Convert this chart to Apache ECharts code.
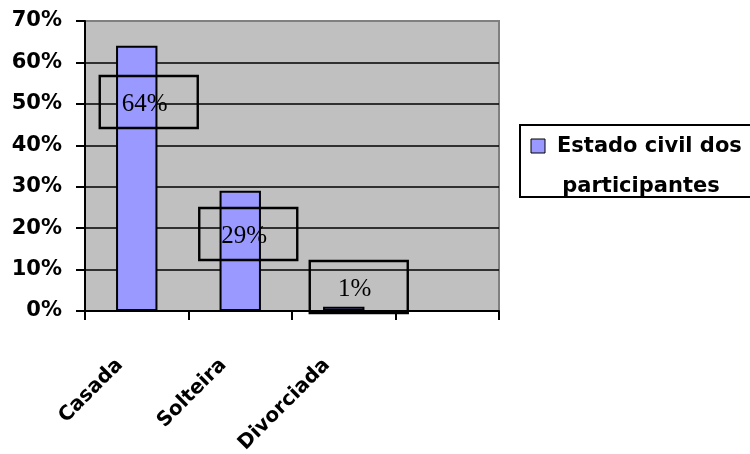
<!DOCTYPE html>
<html>
<head>
<meta charset="utf-8">
<script src="https://cdn.jsdelivr.net/npm/echarts@6/dist/echarts.min.js"></script>
<style>
  html, body { margin: 0; padding: 0; background: #ffffff; }
  #chart { width: 750px; height: 454px; }
</style>
</head>
<body>
<div id="chart"></div>
<script>
// Marital status of the participants (percent)
const categories = ['Casada', 'Solteira', 'Divorciada', ''];
const shares = [64, 29, 1];
const yTickLabels = ['0%', '10%', '20%', '30%', '40%', '50%', '60%', '70%'];
const seriesName = 'Estado civil dos participantes';

const Y_STEP = 10;
const Y_MAX = Y_STEP * (yTickLabels.length - 1);

// Each value label sits in its own framed box, nudged from the bar's base
const labelNudge = [[12, -183], [8, -51], [15, 2]];

const chart = echarts.init(document.getElementById('chart'), null, { renderer: 'canvas' });

chart.setOption({
  backgroundColor: '#ffffff',
  animation: false,
  grid: {
    left: 85, top: 21, right: 251, bottom: 143,
    outerBoundsMode: 'none',
    containLabel: false,
    show: true,
    backgroundColor: '#C0C0C0',
    borderColor: '#808080',
    borderWidth: 2
  },
  xAxis: {
    type: 'category',
    data: categories,
    boundaryGap: true,
    axisLine: { lineStyle: { color: '#000', width: 2 } },
    axisTick: { show: true, length: 9, lineStyle: { color: '#000', width: 2 } },
    axisLabel: {
      rotate: 45,
      interval: 0,
      margin: 34,
      padding: [0, 24, 0, 0],
      color: '#000',
      fontFamily: '"DejaVu Sans", sans-serif',
      fontWeight: 'bold',
      fontSize: 20
    },
    splitLine: { show: false }
  },
  yAxis: {
    type: 'value',
    min: 0,
    max: Y_MAX,
    interval: Y_STEP,
    axisLine: { show: true, lineStyle: { color: '#000', width: 2 } },
    axisTick: { show: true, length: 9, lineStyle: { color: '#000', width: 2 } },
    axisLabel: {
      margin: 23,
      color: '#000',
      fontFamily: '"DejaVu Sans", sans-serif',
      fontWeight: 'bold',
      fontSize: 21,
      formatter: (v) => yTickLabels[Math.round(v / Y_STEP)]
    },
    splitLine: { show: true, showMaxLine: false, lineStyle: { color: '#000', width: 1.6 } }
  },
  series: [{
    name: seriesName,
    type: 'bar',
    barWidth: '40%',
    itemStyle: { color: '#9999FF', borderColor: '#000', borderWidth: 2 },
    label: {
      show: true,
      position: 'insideBottom',
      distance: 0,
      formatter: '{c}%',
      color: '#000',
      fontFamily: '"Liberation Serif", "Times New Roman", serif',
      fontSize: 25,
      lineHeight: 26,
      width: 50,
      padding: [15, 28, 11, 20],
      borderColor: '#000',
      borderWidth: 1.2,
      backgroundColor: 'transparent'
    },
    data: shares.map((v, i) => ({ value: v, label: { offset: labelNudge[i] } }))
  }],
  graphic: [
    {
      type: 'rect',
      shape: { x: 520, y: 125, width: 260, height: 72 },
      style: { fill: '#ffffff', stroke: '#000', lineWidth: 2 }
    },
    {
      type: 'rect',
      shape: { x: 531, y: 139, width: 14, height: 14 },
      style: { fill: '#9999FF', stroke: '#000', lineWidth: 1 }
    },
    {
      type: 'text',
      style: {
        x: 557, y: 147, text: 'Estado civil dos',
        font: 'bold 21px "DejaVu Sans", sans-serif',
        fill: '#000', verticalAlign: 'middle'
      }
    },
    {
      type: 'text',
      style: {
        x: 641, y: 187, text: 'participantes',
        font: 'bold 21px "DejaVu Sans", sans-serif',
        fill: '#000', verticalAlign: 'middle', align: 'center'
      }
    }
  ]
});
</script>
</body>
</html>
